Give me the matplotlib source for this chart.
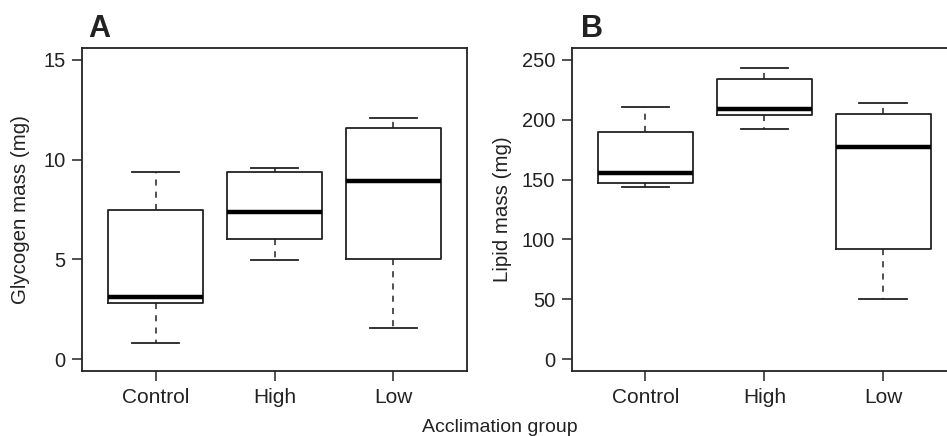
import matplotlib
matplotlib.use("Agg")
import matplotlib.pyplot as plt

plt.rcParams['font.family'] = ['Liberation Sans', 'DejaVu Sans']

groups = ["Control", "High", "Low"]

# glycogen (mg): lower whisker, Q1, median, Q3, upper whisker
gly_low = [0.79, 4.98, 1.54]
gly_q1 = [2.83, 6.04, 5.0]
gly_med = [3.11, 7.38, 8.95]
gly_q3 = [7.49, 9.38, 11.6]
gly_high = [9.4, 9.57, 12.1]

# lipid (mg)
lip_low = [143.8, 192.0, 50.2]
lip_q1 = [146.9, 204.0, 91.7]
lip_med = [155.3, 208.8, 177.5]
lip_q3 = [189.5, 233.9, 205.1]
lip_high = [210.4, 243.3, 214.3]

ink = "#222222"


def make_stats(lo, q1, med, q3, hi):
    out = []
    for i in range(len(groups)):
        out.append({"whislo": lo[i], "q1": q1[i], "med": med[i],
                    "q3": q3[i], "whishi": hi[i], "fliers": [],
                    "label": groups[i]})
    return out


def draw(ax, stats, ticks, ylim, ylabel):
    ax.bxp(stats, positions=[1, 2, 3], widths=0.8, showfliers=False,
           boxprops=dict(color=ink, linewidth=1.3),
           medianprops=dict(color="black", linewidth=3.2, solid_capstyle="butt"),
           whiskerprops=dict(color=ink, linewidth=1.1, linestyle=(0, (4, 4))),
           capprops=dict(color=ink, linewidth=1.3),
           capwidths=0.4)
    ax.set_xlim(0.38, 3.62)
    ax.set_ylim(*ylim)
    ax.set_yticks(ticks)
    ax.set_xticks([1, 2, 3])
    ax.set_xticklabels(groups)
    ax.tick_params(axis="both", labelsize=14.5, colors=ink, length=7, width=1.1,
                   labelcolor=ink)
    ax.tick_params(axis="x", labelsize=15, pad=5)
    ax.tick_params(axis="y", pad=5)
    for s in ax.spines.values():
        s.set_color(ink)
        s.set_linewidth(1.3)
    ax.set_ylabel(ylabel, fontsize=14.8, color=ink)


fig = plt.figure(figsize=(9.47, 4.36), dpi=100)
W, H = 947.0, 436.0

axA = fig.add_axes([82 / W, (H - 371) / H, (467 - 82) / W, (371 - 48) / H])
draw(axA, make_stats(gly_low, gly_q1, gly_med, gly_q3, gly_high),
     [0, 5, 10, 15], (-0.6, 15.6), "Glycogen mass (mg)")
axA.yaxis.set_label_coords(-52 / 385.0, 0.5)

axB = fig.add_axes([571.7 / W, (H - 371) / H, (957 - 571.7) / W, (371 - 48) / H])
draw(axB, make_stats(lip_low, lip_q1, lip_med, lip_q3, lip_high),
     [0, 50, 100, 150, 200, 250], (-10, 260), "Lipid mass (mg)")
axB.yaxis.set_label_coords(-60 / 385.3, 0.5)

fig.text(88 / W, (H - 37) / H, "A", fontsize=22, fontweight="bold", color=ink,
         ha="left", va="baseline")
fig.text(581 / W, (H - 37) / H, "B", fontsize=22, fontweight="bold", color=ink,
         ha="left", va="baseline")
fig.text(500 / W, (H - 427) / H, "Acclimation group", fontsize=14, color=ink,
         ha="center", va="center")

fig.savefig("out.png", dpi=100)
